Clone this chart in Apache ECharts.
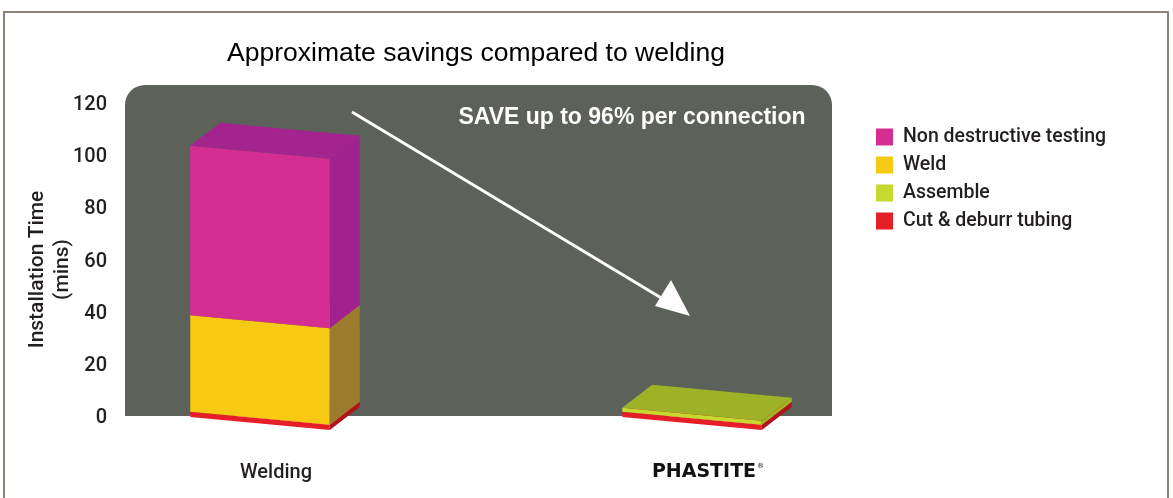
<!DOCTYPE html>
<html><head><meta charset="utf-8">
<script src="https://cdn.jsdelivr.net/npm/echarts@6/dist/echarts.min.js"></script>
<style>html,body{margin:0;padding:0;background:#fff}#c{width:1173px;height:498px}</style>
</head><body><div id="c"></div>
<script>
const categories = ['Welding', 'PHASTITE'];
const cutDeburr = [2, 2];
const assemble = [0, 1.5];
const weld = [37, 0];
const ndt = [65, 0];
const yTicks = [0, 20, 40, 60, 80, 100, 120];

const seriesDefs = [
  {name: 'Cut & deburr tubing', values: cutDeburr, front: '#e61e27', side: '#b3141b', top: '#c8161f'},
  {name: 'Assemble', values: assemble, front: '#c5d92e', side: '#a0b424', top: '#9db227'},
  {name: 'Weld', values: weld, front: '#f6c912', side: '#9c7b2c', top: '#c9a21b'},
  {name: 'Non destructive testing', values: ndt, front: '#d52e92', side: '#a1228e', top: '#a3248f'}
];

const base = categories.map(() => 0);
const series = seriesDefs.map(def => {
  const data = def.values.map((v, i) => {
    const lo = base[i];
    base[i] += v;
    return [i, lo, lo + v];
  });
  return {
    type: 'custom',
    name: def.name,
    itemStyle: {color: def.front},
    encode: {x: 0, y: [1, 2]},
    data: data,
    z: 3,
    renderItem: function (params, api) {
      const cat = api.value(0), lo = api.value(1), hi = api.value(2);
      if (!(hi > lo)) return null;
      const band = api.size([1, 0])[0];
      const c = api.coord([cat, lo]);
      const t = api.coord([cat, hi]);
      const W = band * 0.323, dx = 30, dy = -23, S = 13;
      const xL = c[0] - (W + dx) / 2 - 1, xR = xL + W;
      const yB = c[1] - 1, yT = t[1] - 1;
      return {
        type: 'group',
        children: [
          {type: 'polygon', shape: {points: [[xL, yB], [xR, yB + S], [xR, yT + S], [xL, yT]]}, style: {fill: def.front}},
          {type: 'polygon', shape: {points: [[xR, yB + S], [xR + dx, yB + S + dy], [xR + dx, yT + S + dy], [xR, yT + S]]}, style: {fill: def.side}},
          {type: 'polygon', shape: {points: [[xL, yT], [xR, yT + S], [xR + dx, yT + S + dy], [xL + dx, yT + dy]]}, style: {fill: def.top}}
        ]
      };
    }
  };
});

const chart = echarts.init(document.getElementById('c'));
chart.setOption({
  animation: false,
  backgroundColor: '#ffffff',
  grid: {left: 60, right: 249, top: 105, bottom: 80, containLabel: false, outerBoundsMode: 'none'},
  xAxis: {
    type: 'category',
    data: categories,
    axisLine: {show: false},
    axisTick: {show: false},
    axisLabel: {
      margin: 45,
      formatter: function (v) { return v === 'PHASTITE' ? '{logo|PHASTITE}{r|®}' : '{t|' + v + '}'; },
      rich: {
        t: {fontFamily: 'Roboto', fontWeight: 500, fontSize: 20, color: '#231f20'},
        logo: {fontFamily: 'DejaVu Sans', fontWeight: 'bold', fontSize: 19, color: '#111'},
        r: {fontFamily: 'DejaVu Sans', fontSize: 7, color: '#111', verticalAlign: 'top', padding: [0, 0, 12, 1]}
      }
    }
  },
  yAxis: {
    type: 'value',
    min: 0, max: 120, interval: 20,
    offset: -55,
    axisLine: {show: false},
    axisTick: {show: false},
    splitLine: {show: false},
    axisLabel: {fontFamily: 'Roboto', fontWeight: 500, fontSize: 20, color: '#231f20', margin: 8,
      formatter: function (v) { return yTicks.indexOf(v) >= 0 ? String(v) : ''; }},
    name: 'Installation Time\n(mins)',
    nameLocation: 'middle',
    nameRotate: 90,
    nameGap: 40,
    nameMoveOverlap: false,
    nameTextStyle: {fontFamily: 'Roboto', fontWeight: 500, fontSize: 21, color: '#231f20', lineHeight: 25, padding: [0, 16, 0, 0]}
  },
  legend: {
    data: ['Non destructive testing', 'Weld', 'Assemble', 'Cut & deburr tubing'],
    orient: 'vertical',
    left: 871, top: 122,
    icon: 'rect',
    itemWidth: 17, itemHeight: 17, itemGap: 8,
    textStyle: {fontFamily: 'Roboto', fontWeight: 500, fontSize: 19.5, color: '#231f20', padding: [0, 0, 0, 5]},
    selectedMode: false
  },
  graphic: [
    {type: 'rect', z: -10, shape: {x: 4, y: 12, width: 1164, height: 500}, style: {fill: 'none', stroke: '#8c857b', lineWidth: 2}},
    {type: 'rect', z: -5, shape: {x: 125, y: 85, width: 707, height: 331, r: [20, 20, 0, 0]}, style: {fill: '#5c6259'}},
    {type: 'text', z: 10, style: {x: 476, y: 54, text: 'Approximate savings compared to welding', fontFamily: 'Liberation Sans', fontSize: 26.5, fill: '#000', align: 'center', verticalAlign: 'middle'}},
    {type: 'text', z: 10, style: {x: 632, y: 118, text: 'SAVE up to 96% per connection', fontFamily: 'Liberation Sans', fontWeight: 'bold', fontSize: 23, fill: '#fff', align: 'center', verticalAlign: 'middle'}},
    {type: 'line', z: 10, shape: {x1: 352, y1: 112, x2: 668, y2: 302}, style: {stroke: '#fff', lineWidth: 3}},
    {type: 'polygon', z: 10, shape: {points: [[690, 316], [655, 306], [671, 280]]}, style: {fill: '#fff'}}
  ],
  series: series
});
</script></body></html>
